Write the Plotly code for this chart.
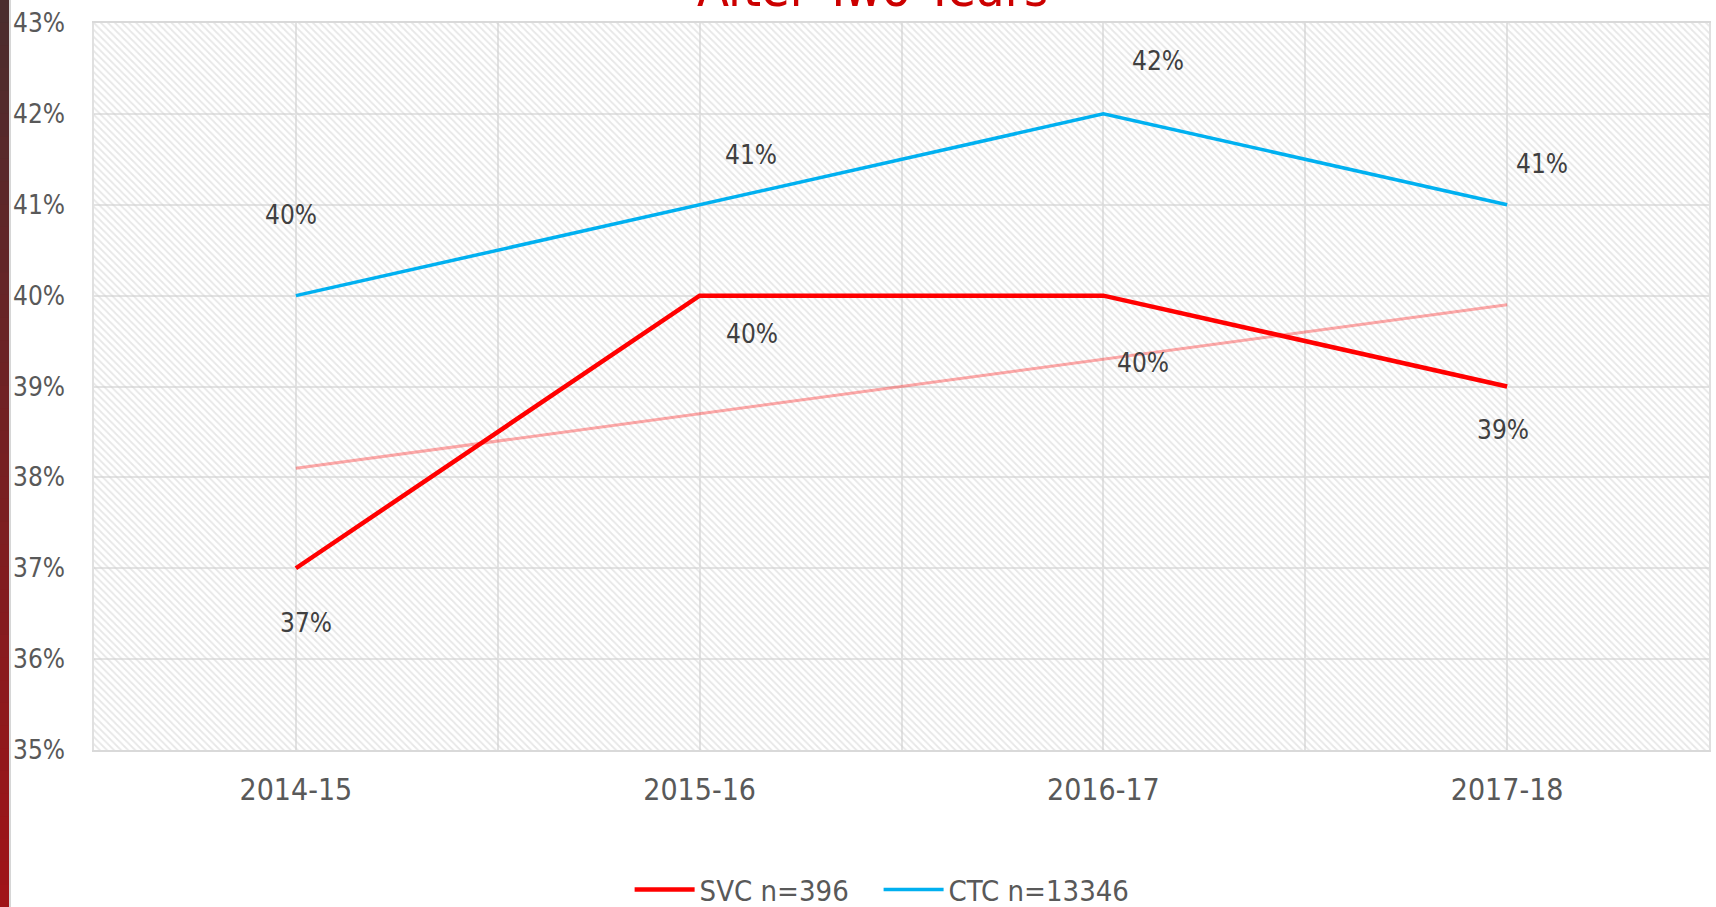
import plotly.graph_objects as go

categories = ["2014-15", "2015-16", "2016-17", "2017-18"]
svc_values = [37, 40, 40, 39]
ctc_values = [40, 41, 42, 41]
svc_trend = [38.1, 38.7, 39.3, 39.9]
svc_name = "SVC n=396"
ctc_name = "CTC n=13346"
title_text = "After Two Years"
y_ticks = [35, 36, 37, 38, 39, 40, 41, 42, 43]

FONT = "DejaVu Sans Condensed, DejaVu Sans, sans-serif"
xs = list(range(len(categories)))

# label pixel offsets (styling)
ctc_off = [(-5, 81), (51, 50), (55, 53), (35, 41)]
svc_off = [(10, -55), (52, -38), (40, -67), (-4, -43)]

fig = go.Figure()

# hatched plot background
fig.add_trace(go.Bar(
    x=[(len(categories) - 1) / 2], y=[y_ticks[-1] - y_ticks[0]], base=[y_ticks[0]],
    width=[len(categories)],
    marker=dict(color="rgba(0,0,0,0)", line=dict(width=0),
                pattern=dict(shape="\\", fgcolor="#d0d0d0", bgcolor="rgba(0,0,0,0)",
                             size=5, solidity=0.35)),
    showlegend=False, hoverinfo="skip"))

fig.add_trace(go.Scatter(x=xs, y=svc_trend, mode="lines",
                         line=dict(color="rgba(255,0,0,0.33)", width=3),
                         showlegend=False, hoverinfo="skip"))
fig.add_trace(go.Scatter(x=xs, y=svc_values, mode="lines", name=svc_name + "\u00a0\u00a0\u00a0",
                         line=dict(color="#FF0000", width=4.5)))
fig.add_trace(go.Scatter(x=xs, y=ctc_values, mode="lines", name=ctc_name,
                         line=dict(color="#00B0F0", width=3.5)))

ann = []
for i, v in enumerate(ctc_values):
    ann.append(dict(x=xs[i], y=v, text=f"{v}%", showarrow=False,
                    xshift=ctc_off[i][0], yshift=ctc_off[i][1],
                    font=dict(family=FONT, size=26, color="#404040")))
for i, v in enumerate(svc_values):
    ann.append(dict(x=xs[i], y=v, text=f"{v}%", showarrow=False,
                    xshift=svc_off[i][0], yshift=svc_off[i][1],
                    font=dict(family=FONT, size=26, color="#404040")))
ann.append(dict(xref="paper", yref="paper", x=0.482, y=1, xanchor="center", yanchor="bottom",
                yshift=3, text=title_text, showarrow=False,
                font=dict(family=FONT, size=52, color="#CC0000")))

# left decorative gradient bar
shapes = []
n = 40
top = (75, 45, 46)
bot = (160, 20, 24)
for k in range(n):
    t = k / (n - 1)
    c = tuple(int(top[j] + (bot[j] - top[j]) * t) for j in range(3))
    shapes.append(dict(type="rect", xref="paper", yref="paper", xsizemode="pixel", ysizemode="pixel",
                       xanchor=0, yanchor=1, x0=-94, x1=-85,
                       y0=23 - 907 * k / n, y1=23 - 907 * (k + 1) / n - 1,
                       fillcolor=f"rgb{c}", line=dict(width=0), layer="above"))
shapes.append(dict(type="rect", xref="paper", yref="paper", xsizemode="pixel", ysizemode="pixel",
                   xanchor=0, yanchor=1, x0=-85, x1=-83, y0=23, y1=23 - 907,
                   fillcolor="#d6d6d6", line=dict(width=0), layer="above"))

fig.update_layout(
    width=1716, height=907,
    margin=dict(l=94, r=7, t=23, b=157, autoexpand=False),
    paper_bgcolor="white", plot_bgcolor="white",
    hovermode=False,
    annotations=ann, shapes=shapes,
    legend=dict(orientation="h", x=0.488, xanchor="center", y=-0.192, yanchor="middle",
                font=dict(family=FONT, size=29, color="#595959"), itemwidth=60,
                traceorder="normal"),
    xaxis=dict(range=[-0.5, len(categories) - 0.5], tickvals=xs, ticktext=categories,
               automargin=False,
               showgrid=True, gridcolor="#e3e3e3", gridwidth=1.5,
               minor=dict(tickvals=[i - 0.5 for i in range(len(categories) + 1)],
                          showgrid=True, gridcolor="#e3e3e3", gridwidth=1.5, ticks=""),
               showline=True, linecolor="#d9d9d9", linewidth=2, mirror=True,
               ticks="", tickfont=dict(family=FONT, size=30, color="#595959"),
               ticklabelstandoff=12, zeroline=False),
    yaxis=dict(range=[y_ticks[0], y_ticks[-1]], tickvals=y_ticks,
               ticktext=[f"{t}%" for t in y_ticks], automargin=False,
               showgrid=True, gridcolor="#e3e3e3", gridwidth=1.5,
               showline=True, linecolor="#e0e0e0", linewidth=1.5, mirror=True,
               ticks="", tickfont=dict(family=FONT, size=26, color="#595959"),
               ticklabelstandoff=22, zeroline=False),
)

fig.write_html("out.html", config={"displayModeBar": False},
               post_script="document.body.style.margin='0';document.body.style.overflow='hidden';")
